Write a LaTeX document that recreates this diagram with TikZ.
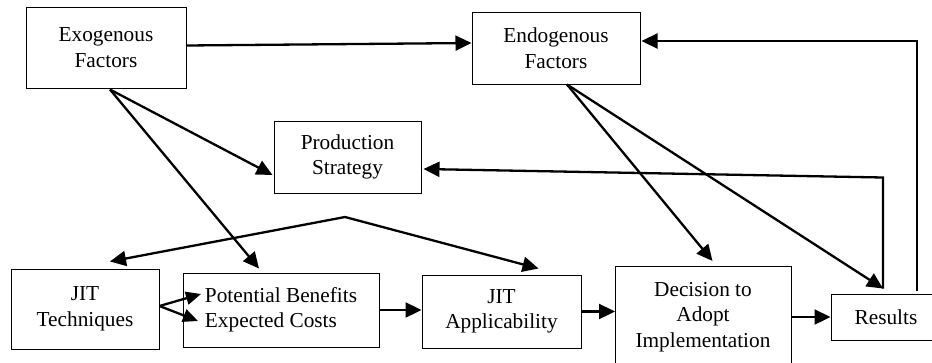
\documentclass[tikz,border=0pt]{standalone}
\usepackage{fontspec}
\setmainfont{Liberation Serif}
\usetikzlibrary{arrows.meta,calc}
\begin{document}
\begin{tikzpicture}[x=1pt,y=-1pt,
  box/.style={draw,line width=1pt,inner sep=0pt,align=center,
    font=\fontsize{21.3}{25.5}\selectfont},
  txt/.style={inner sep=0pt,align=center,font=\fontsize{21.3}{25.5}\selectfont},
  arr/.style={line width=2.3pt,-{Triangle[length=16pt,width=15pt]}},
  smallarr/.style={line width=2.3pt,-{Triangle[length=15pt,width=13pt]}}]
\clip (0,0) rectangle (932,362);
\fill[white] (0,0) rectangle (932,362);
% boxes
\node[box,minimum width=160,minimum height=81] (exo) at (106,47.5) {Exogenous\\Factors};
\node[box,minimum width=168,minimum height=72] (endo) at (556,48) {Endogenous\\Factors};
\node[box,minimum width=147,minimum height=72] (prod) at (347.5,157) {Production\\Strategy};
\node[box,minimum width=148,minimum height=80] (jitt) at (85,309) {JIT\\Techniques};
\node[box,minimum width=196,minimum height=74,align=left] (pot) at (281,310) {Potential Benefits\\Expected Costs};
\node[box,minimum width=159,minimum height=73] (jita) at (501.5,311.5) {JIT\\Applicability};
\node[box,minimum width=176,minimum height=109,anchor=north west] (dec) at (615,266) {};
\node[txt] (dectext) at (703,317) {Decision to\\Adopt\\Implementation};
\node[box,minimum width=110,minimum height=46] (res) at (886,317) {Results};
% junction points
\coordinate (peak) at (345,217);
\coordinate (pb) at (201,294);
\coordinate (ec) at (198,321);
\coordinate (rtop) at ($(res.north)+(-3,-5)$);
\coordinate (rfb) at ($(res.north)+(31,-3)$);
% connectors
\draw[arr] ($(exo.east)+(0,-2)$) -- ($(endo.west)+(0,-5)$);
\draw[arr] ($(exo.south)+(4,1)$) -- ($(prod.west)+(-1,18)$);
\draw[arr] ($(exo.south)+(4,1)$) -- ($(pot.north)+(-22,-4)$);
\draw[arr] (peak) -- ($(jitt.north)+(25,-7)$);
\draw[arr] (peak) -- ($(jita.north)+(37,-6)$);
\draw[smallarr] ($(jitt.east)+(0,-3)$) -- (pb);
\draw[smallarr] ($(jitt.east)+(0,-3)$) -- (ec);
\draw[arr] (pot.east) -- (pot.east -| jita.west);
\draw[arr] (jita.east) -- (jita.east -| dec.west);
\draw[arr] (dec.east |- res.west) -- (res.west);
\draw[arr] ($(endo.south)+(11,0)$) -- ($(dec.north)+(9,-5)$);
\draw[arr] ($(endo.south)+(11,0)$) -- (rtop);
\draw[arr] (rtop) -- ($(rtop)+(0,-111)$) -- ($(prod.east)+(2,12)$);
\draw[arr] (rfb) |- ($(endo.east)+(1,-7)$);
\end{tikzpicture}
\end{document}
